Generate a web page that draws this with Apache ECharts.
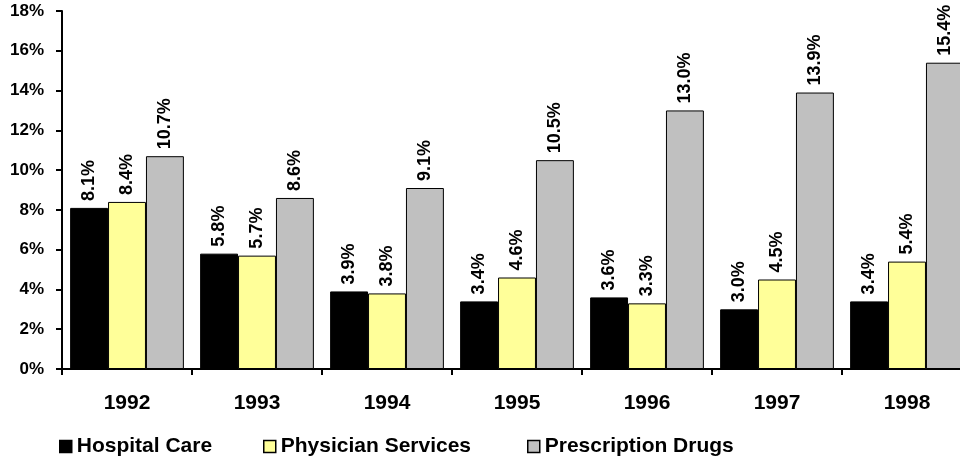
<!DOCTYPE html>
<html><head><meta charset="utf-8">
<script src="https://cdn.jsdelivr.net/npm/echarts@6/dist/echarts.min.js"></script>
<style>html,body{margin:0;padding:0;background:#fff}#c{width:960px;height:459px}</style>
</head><body><div id="c"></div>
<script>
var years = ['1992','1993','1994','1995','1996','1997','1998'];
var hospitalCare = [8.1, 5.8, 3.9, 3.4, 3.6, 3.0, 3.4];
var physicianServices = [8.4, 5.7, 3.8, 4.6, 3.3, 4.5, 5.4];
var prescriptionDrugs = [10.7, 8.6, 9.1, 10.5, 13.0, 13.9, 15.4];
var seriesNames = ['Hospital Care', 'Physician Services', 'Prescription Drugs'];
var yTicks = [0, 2, 4, 6, 8, 10, 12, 14, 16, 18];

var font = 'Liberation Sans, Arial, sans-serif';
function mk(name, data, color) {
  return {
    name: name, type: 'bar', data: data, barGap: '0%', barCategoryGap: '12.5%',
    itemStyle: { color: color, borderColor: '#000', borderWidth: 1 },
    label: {
      show: true, position: 'top', rotate: 90, align: 'left', verticalAlign: 'middle',
      distance: 7, fontFamily: font, fontWeight: 'bold', fontSize: 18, color: '#000',
      formatter: function (p) { return p.value.toFixed(1) + '%'; }
    }
  };
}
function lg(name, left) {
  return {
    left: left, top: 431, itemWidth: 12, itemHeight: 12, icon: 'rect',
    itemStyle: { borderColor: '#000', borderWidth: 1.5 },
    textStyle: { fontFamily: font, fontWeight: 'bold', fontSize: 21, color: '#000' },
    data: [name]
  };
}
var chart = echarts.init(document.getElementById('c'));
chart.setOption({
  animation: false,
  grid: { left: 62, width: 910, top: 11, bottom: 90, outerBoundsMode: 'none', containLabel: false },
  legend: [lg(seriesNames[0], 54), lg(seriesNames[1], 258), lg(seriesNames[2], 522)],
  xAxis: {
    type: 'category', data: years,
    axisLine: { lineStyle: { color: '#000', width: 2 } },
    axisTick: { show: true, length: 6, lineStyle: { color: '#000', width: 2 } },
    axisLabel: { fontFamily: font, fontWeight: 'bold', fontSize: 21, color: '#000', margin: 24 }
  },
  yAxis: {
    type: 'value', min: 0, max: 18, interval: 2,
    splitLine: { show: false },
    axisLine: { show: true, lineStyle: { color: '#000', width: 2 } },
    axisTick: { show: true, length: 6, lineStyle: { color: '#000', width: 2 } },
    axisLabel: { fontFamily: font, fontWeight: 'bold', fontSize: 17, color: '#000', margin: 18,
      formatter: function (v) { return yTicks.indexOf(v) >= 0 ? v + '%' : ''; } }
  },
  series: [
    mk(seriesNames[0], hospitalCare, '#000000'),
    mk(seriesNames[1], physicianServices, '#FFFF99'),
    mk(seriesNames[2], prescriptionDrugs, '#C0C0C0')
  ]
});
</script></body></html>
